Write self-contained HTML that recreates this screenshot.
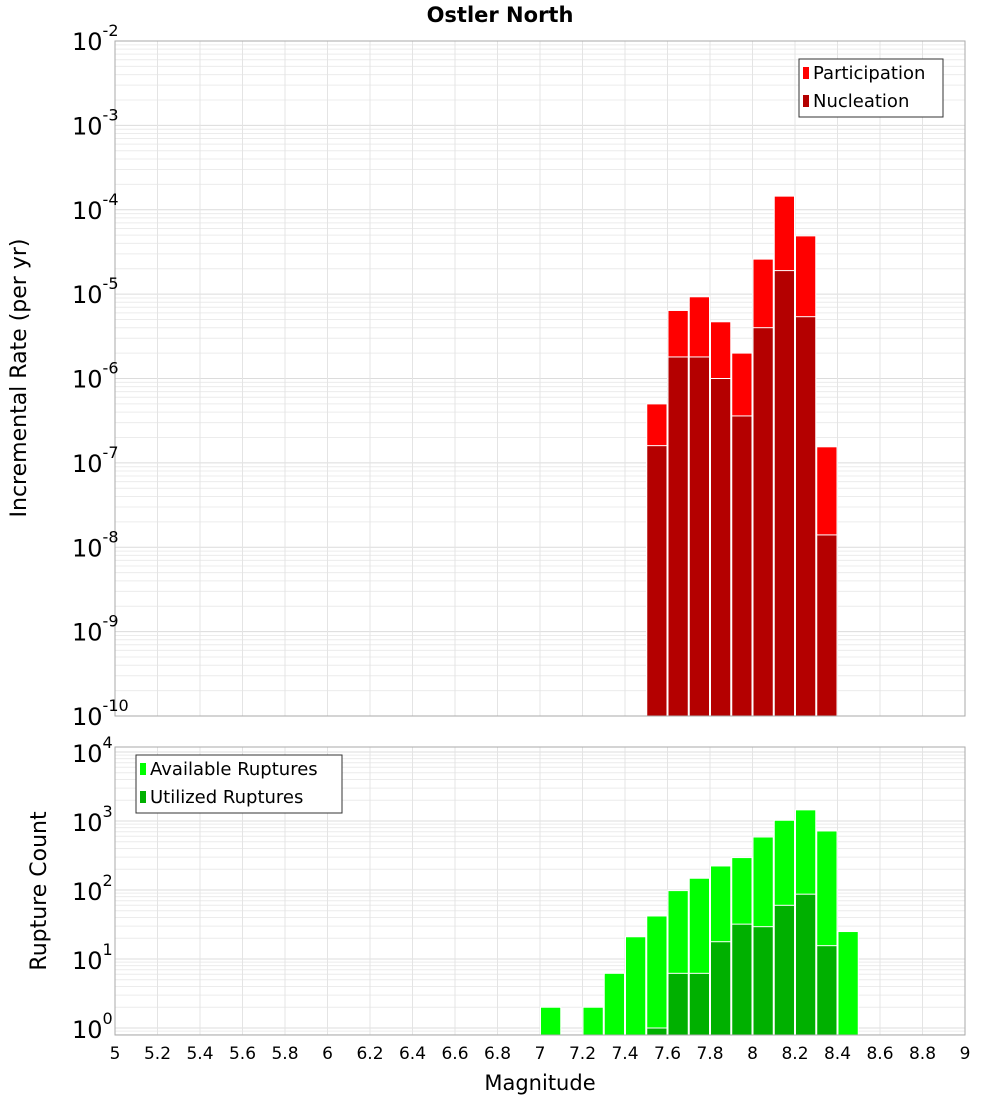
<!DOCTYPE html>
<html><head><meta charset="utf-8"><style>
body{margin:0;background:#fff;font-family:"Liberation Sans","DejaVu Sans",sans-serif}
svg text{font-family:"DejaVu Sans","Liberation Sans",sans-serif}
</style></head><body>
<svg id="c" width="1000" height="1100" xmlns="http://www.w3.org/2000/svg"></svg>
<script>
const bins = [7.0,7.1,7.2,7.3,7.4,7.5,7.6,7.7,7.8,7.9,8.0,8.1,8.2,8.3,8.4];
const participation = [0,0,0,0,0,5.0e-7,6.4e-6,9.3e-6,4.7e-6,2.0e-6,2.6e-5,1.45e-4,4.9e-5,1.55e-7,0];
const nucleation = [0,0,0,0,0,1.6e-7,1.8e-6,1.8e-6,1.0e-6,3.6e-7,4.0e-6,1.9e-5,5.4e-6,1.4e-8,0];
const available = [2,0,2,6.2,21,42,98,148,223,295,586,1025,1450,717,25];
const utilized = [0,0,0,0,0,1,6.2,6.2,17.8,32,29.4,60,87,15.6,0];
const xTicks = [5,5.2,5.4,5.6,5.8,6,6.2,6.4,6.6,6.8,7,7.2,7.4,7.6,7.8,8,8.2,8.4,8.6,8.8,9];
const topExp = [-2,-3,-4,-5,-6,-7,-8,-9,-10];
const botExp = [4,3,2,1,0];

const NS="http://www.w3.org/2000/svg", svg=document.getElementById('c');
function el(t,a,p){const e=document.createElementNS(NS,t);for(const k in a)e.setAttribute(k,a[k]);(p||svg).appendChild(e);return e;}
const X0=115,X1=965;
const xs=v=>X0+(v-5)/4*(X1-X0);
const T0=41,T1=716;
const yTop=v=>T0+(-2-Math.log10(v))*(T1-T0)/8;
const B0=747,B1=1035;
const yBot=v=>1028-Math.log10(v)*69;

function grid(y0,y1,ymap,lo,hi,name){
  const g=el('g',{});  
  for(let e=lo;e<hi;e++)for(let m=1;m<10;m++){const y=ymap(m*Math.pow(10,e));if(y>=y0&&y<=y1)el('line',{x1:X0,x2:X1,y1:y,y2:y,stroke:m==1?'#dcdcdc':'#ececec','stroke-width':1},g);}
  xTicks.forEach(t=>{const x=xs(t);el('line',{x1:x,x2:x,y1:y0,y2:y1,stroke:'#e4e4e4','stroke-width':1},g);});
}
grid(T0,T1,yTop,-10,-2,'top-grid');
grid(B0,B1,yBot,-1,5,'bottom-grid');

function bars(vals,ymap,base,color,name){
  const g=el('g',{});  
  vals.forEach((v,i)=>{if(v<=0)return;const x=xs(bins[i]),w=xs(bins[i]+0.1)-x,y=Math.max(ymap(v),0);
    const r=el('rect',{x:x+0.5,y:y,width:w-1,height:base-y,fill:color,stroke:'#fff','stroke-width':1},g);
     });
}
bars(participation,yTop,T1,'#ff0000','participation');
bars(nucleation,yTop,T1,'#b40000','nucleation');
bars(available,yBot,B1,'#00ff00','available');
bars(utilized,yBot,B1,'#00b000','utilized');

el('rect',{x:X0,y:T0,width:X1-X0,height:T1-T0,fill:'none',stroke:'#aaa'});
el('rect',{x:X0,y:B0,width:X1-X0,height:B1-B0,fill:'none',stroke:'#aaa'});

topExp.forEach(e=>{const y=yTop(Math.pow(10,e));const t=el('text',{x:72,y:y+9,'font-size':24,fill:'#000'});
  t.textContent='10';const s=el('tspan',{dy:-14,'font-size':16},t);s.textContent=e;});
botExp.forEach(e=>{const y=yBot(Math.pow(10,e));const t=el('text',{x:72,y:y+10,'font-size':24,fill:'#000'});
  t.textContent='10';const s=el('tspan',{dy:-14,'font-size':16},t);s.textContent=e;});
xTicks.forEach(v=>{const t=el('text',{x:xs(v),y:1059,'font-size':17,'text-anchor':'middle',fill:'#000'});t.textContent=String(v);});

function txt(s,a,name){const t=el('text',a);t.textContent=s;return t;}
txt('Ostler North',{x:500,y:22,'font-size':21,'font-weight':'bold','text-anchor':'middle'},'chart-title');
txt('Magnitude',{x:540,y:1090,'font-size':21,'text-anchor':'middle'},'x-axis-title');
txt('Incremental Rate (per yr)',{x:26,y:378,'font-size':22,'text-anchor':'middle',transform:'rotate(-90 26 378)'},'top-y-axis-title');
txt('Rupture Count',{x:46,y:891,'font-size':22,'text-anchor':'middle',transform:'rotate(-90 46 891)'},'bottom-y-axis-title');

function legend(x,y,w,items,name){
  const g=el('g',{});
  el('rect',{x:x,y:y,width:w,height:58,fill:'#fff',stroke:'#333'},g);
  items.forEach((it,i)=>{const cy=y+14+i*28;el('rect',{x:x+4,y:cy-6,width:6,height:12,fill:it[1]},g);
    const t=el('text',{x:x+14,y:cy+6,'font-size':18},g);t.textContent=it[0];});
}
legend(799,59,144,[['Participation','#ff0000'],['Nucleation','#b40000']],'top-legend');
legend(136,755,206,[['Available Ruptures','#00ff00'],['Utilized Ruptures','#00b000']],'bottom-legend');
</script>
</body></html>
